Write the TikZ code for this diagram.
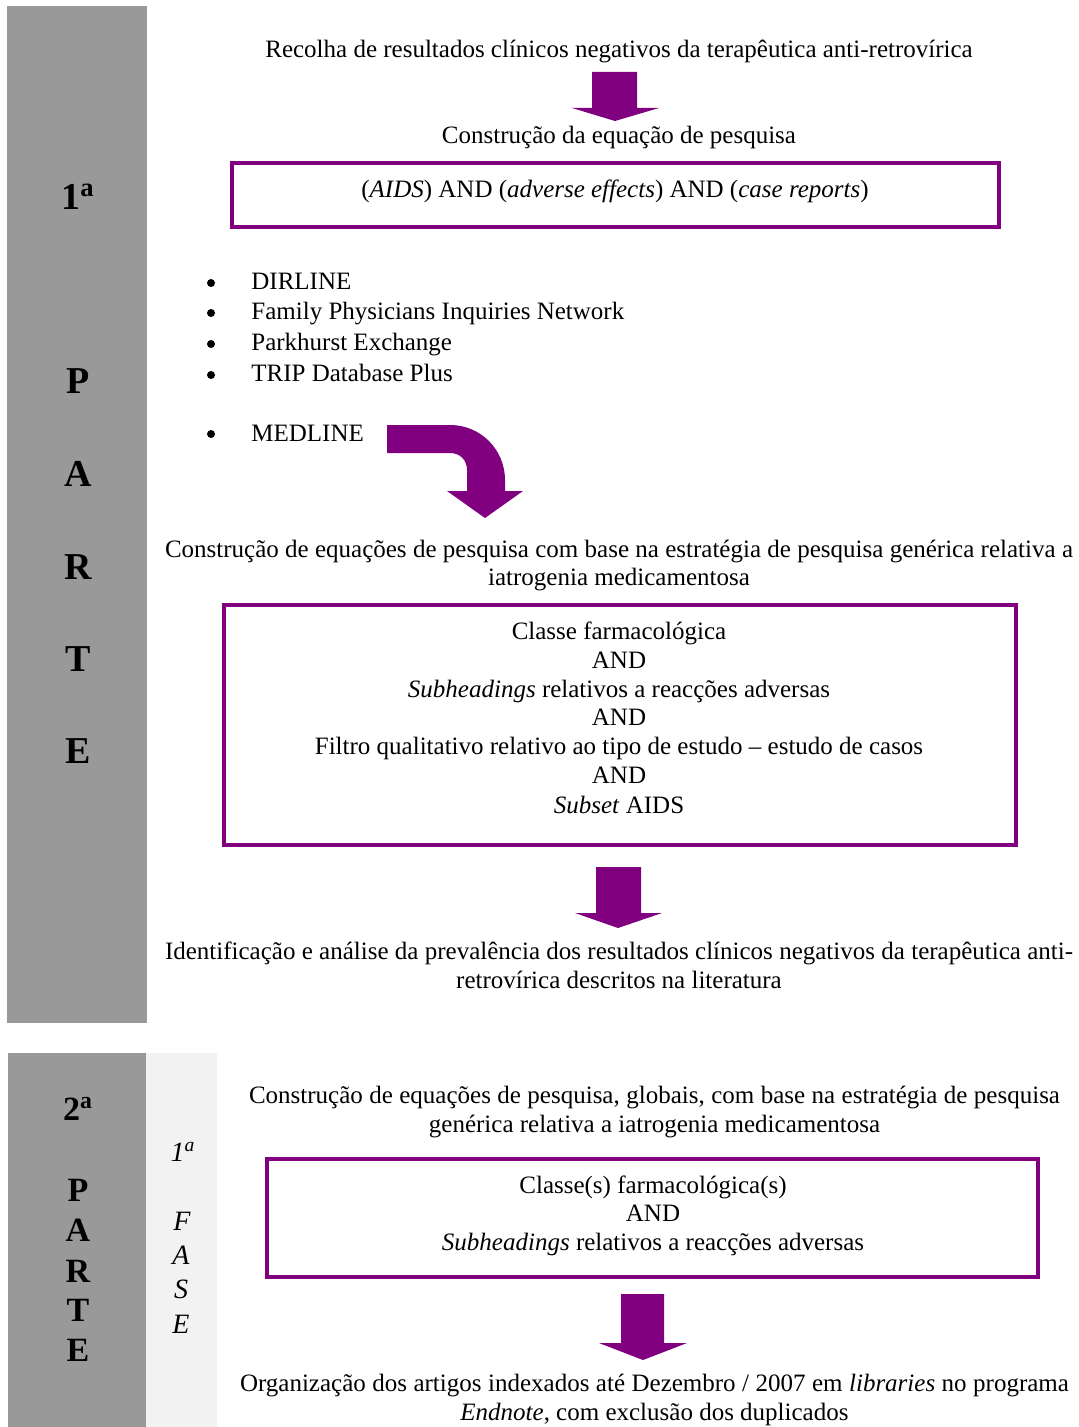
\documentclass[tikz,border=0pt]{standalone}
\usepackage{fontspec}
\setmainfont{Liberation Serif}
\definecolor{bargrey}{HTML}{999999}
\definecolor{phaselight}{HTML}{F2F2F2}
\definecolor{flowpurple}{HTML}{800080}
\begin{document}
\begin{tikzpicture}[x=0.5pt,y=-0.5pt,
  txt/.style={font=\fontsize{12.5}{15}\selectfont, inner sep=0pt, anchor=base},
  bul/.style={txt, anchor=base west},
  dot/.style={circle, fill=black, inner sep=0pt, minimum size=4pt},
  bigletter/.style={font=\fontsize{19}{22}\selectfont\bfseries, inner sep=0pt},
  midletter/.style={font=\fontsize{17}{20}\selectfont\bfseries, inner sep=0pt},
  phaseletter/.style={font=\fontsize{14}{16}\selectfont\itshape, inner sep=0pt},
  querybox/.style={draw=flowpurple, line width=2.25pt},
  blockarrow/.style={fill=flowpurple}]
\useasboundingbox (0,0) rectangle (1078,1427);
\fill[white] (0,0) rectangle (1078,1427);

% side bars
\fill[bargrey] (7,6) rectangle (147,1023);
\fill[phaselight] (146,1053) rectangle (217,1427);
\fill[bargrey] (8,1053) rectangle (146,1427);

% part 1 label
\node[bigletter] (p1n) at (78,197) {1\textsuperscript{a}};
\node[bigletter] (p1P) at (78,381) {P};
\node[bigletter] (p1A) at (78,474) {A};
\node[bigletter] (p1R) at (78,567) {R};
\node[bigletter] (p1T) at (78,659) {T};
\node[bigletter] (p1E) at (78,751) {E};

% part 2 label
\node[midletter] (p2n) at (78,1109) {2\textsuperscript{a}};
\node[midletter] (p2P) at (78,1190) {P};
\node[midletter] (p2A) at (78,1230) {A};
\node[midletter] (p2R) at (78,1271) {R};
\node[midletter] (p2T) at (78,1310) {T};
\node[midletter] (p2E) at (78,1350) {E};

% phase label
\node[phaseletter] (f1n) at (183,1152) {1\textsuperscript{a}};
\node[phaseletter] (fF) at (182,1221) {F};
\node[phaseletter] (fA) at (181,1255) {A};
\node[phaseletter] (fS) at (181,1289) {S};
\node[phaseletter] (fE) at (181,1324) {E};

% part 1 flow
\node[txt] (collect) at (619,58) {Recolha de resultados clínicos negativos da terapêutica anti-retrovírica};
\fill[blockarrow] (592,72) -- (637,72) -- (637,108) -- (659,108) -- (615,121) -- (572,108) -- (592,108) -- cycle;
\node[txt] (build1) at (619,144) {Construção da equação de pesquisa};
\draw[querybox] (232,163) rectangle (999,227);
\node[txt] (query1) at (615,198) {(\textit{AIDS}) AND (\textit{adverse effects}) AND (\textit{case reports})};

\foreach \yy/\name/\lbl in {290/dirline/DIRLINE, 320/fpin/Family Physicians Inquiries Network, 351/parkhurst/Parkhurst Exchange, 382/trip/TRIP Database Plus, 441/medline/MEDLINE}{
  \node[dot] (dot\name) at (211,\yy-7) {};
  \node[bul] (\name) at (251,\yy) {\lbl};
}

% curved arrow from MEDLINE
\fill[blockarrow] (387,425) -- (450,425)
  .. controls (481,425) and (505,450) .. (505,480)
  -- (505,491) -- (523,491) -- (485,518) -- (447,491) -- (467,491) -- (467,470)
  .. controls (467,460) and (460,453) .. (450,453)
  -- (387,453) -- cycle;

\node[txt] (build2a) at (619,557) {\makebox[454pt][s]{Construção de equações de pesquisa com base na estratégia de pesquisa genérica relativa a}};
\node[txt] (build2b) at (619,585) {iatrogenia medicamentosa};
\draw[querybox] (224,605) rectangle (1016,845);
\node[txt] (q2a) at (619,639) {Classe farmacológica};
\node[txt] (q2b) at (619,668) {AND};
\node[txt] (q2c) at (619,697) {\textit{Subheadings} relativos a reacções adversas};
\node[txt] (q2d) at (619,725) {AND};
\node[txt] (q2e) at (619,754) {Filtro qualitativo relativo ao tipo de estudo – estudo de casos};
\node[txt] (q2f) at (619,783) {AND};
\node[txt] (q2g) at (619,813) {\textit{Subset} AIDS};

\fill[blockarrow] (596,867) -- (641,867) -- (641,913) -- (662,913) -- (618,928) -- (575,913) -- (596,913) -- cycle;

\node[txt] (ident1) at (619,959) {\makebox[454pt][s]{Identificação e análise da prevalência dos resultados clínicos negativos da terapêutica anti-}};
\node[txt] (ident2) at (619,988) {retrovírica descritos na literatura};

% part 2 flow
\node[txt] (glob1) at (654.5,1103) {\makebox[405.5pt][s]{Construção de equações de pesquisa, globais, com base na estratégia de pesquisa}};
\node[txt] (glob2) at (654.5,1132) {genérica relativa a iatrogenia medicamentosa};
\draw[querybox] (267,1159) rectangle (1038,1277);
\node[txt] (q3a) at (653,1193) {Classe(s) farmacológica(s)};
\node[txt] (q3b) at (653,1221) {AND};
\node[txt] (q3c) at (653,1250) {\textit{Subheadings} relativos a reacções adversas};

\fill[blockarrow] (621,1294) -- (664,1294) -- (664,1343) -- (687,1343) -- (643,1360) -- (599,1343) -- (621,1343) -- cycle;

\node[txt] (org1) at (654.5,1391) {\makebox[414.5pt][s]{Organização dos artigos indexados até Dezembro / 2007 em \textit{libraries} no programa}};
\node[txt] (org2) at (654.5,1420) {\textit{Endnote}, com exclusão dos duplicados};
\end{tikzpicture}
\end{document}
